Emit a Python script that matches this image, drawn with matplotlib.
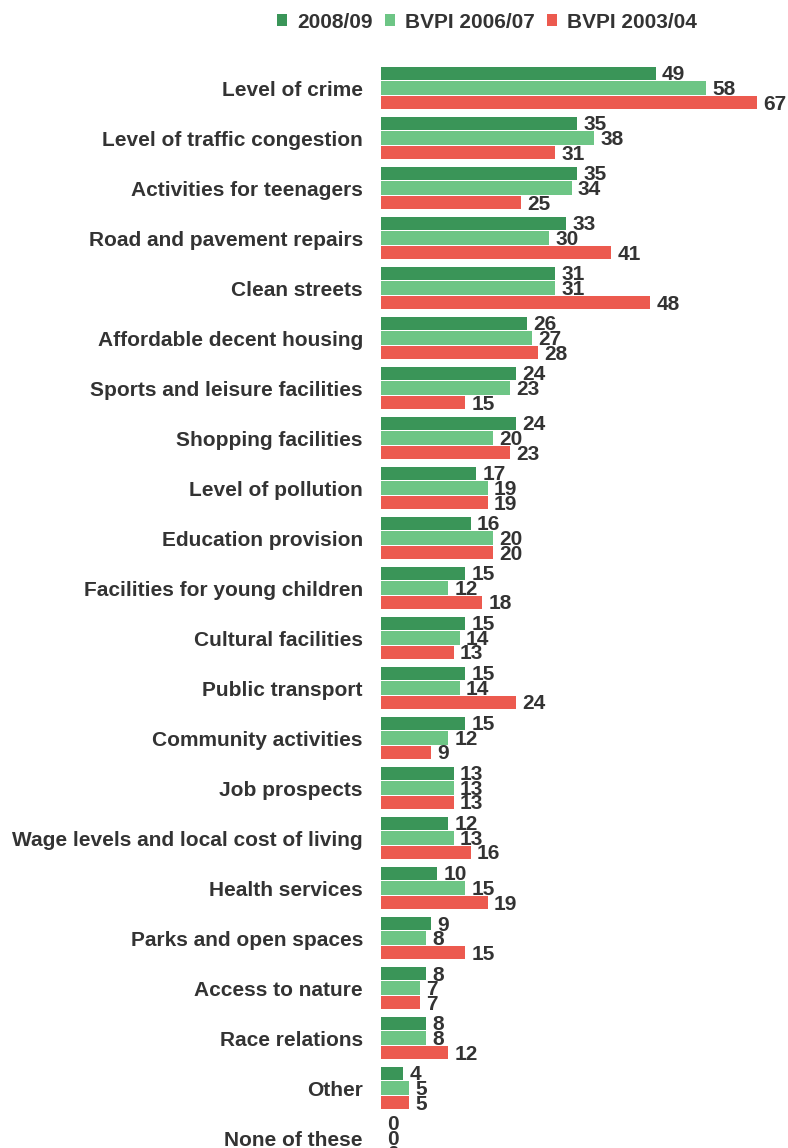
"""Priorities for improvement: 2008/09 vs BVPI surveys."""
import numpy as np
import matplotlib.pyplot as plt

plt.rcParams["font.family"] = ["Liberation Sans", "DejaVu Sans"]

categories = [
    "Level of crime",
    "Level of traffic congestion",
    "Activities for teenagers",
    "Road and pavement repairs",
    "Clean streets",
    "Affordable decent housing",
    "Sports and leisure facilities",
    "Shopping facilities",
    "Level of pollution",
    "Education provision",
    "Facilities for young children",
    "Cultural facilities",
    "Public transport",
    "Community activities",
    "Job prospects",
    "Wage levels and local cost of living",
    "Health services",
    "Parks and open spaces",
    "Access to nature",
    "Race relations",
    "Other",
    "None of these",
]
series_names = ["2008/09", "BVPI 2006/07", "BVPI 2003/04"]
v2008 = [49, 35, 35, 33, 31, 26, 24, 24, 17, 16, 15, 15, 15, 15, 13, 12, 10, 9, 8, 8, 4, 0]
v2006 = [58, 38, 34, 30, 31, 27, 23, 20, 19, 20, 12, 14, 14, 12, 13, 13, 15, 8, 7, 8, 5, 0]
v2003 = [67, 31, 25, 41, 48, 28, 15, 23, 19, 20, 18, 13, 24, 9, 13, 16, 19, 15, 7, 12, 5, 0]

colors = ["#3a9558", "#6dc585", "#ec5a4f"]
text_color = "#333333"
W, H = 788, 1148
fs = 15

fig = plt.figure(figsize=(W / 100, H / 100), dpi=100)
left, top_px = 381, 63
ax = fig.add_axes([left / W, 0, (W - left) / W, (H - top_px) / H])

y = np.arange(len(categories))
offsets = [-0.29, 0.0, 0.29]
for vals, off, col, name in zip([v2008, v2006, v2003], offsets, colors, series_names):
    bars = ax.barh(y + off, vals, height=0.27, color=col, label=name)
    for b, v in zip(bars, vals):
        ax.text(b.get_width() + 1.1, b.get_y() + b.get_height() / 2 + 0.03, str(v),
                ha="left", va="center", fontsize=fs, fontweight="bold",
                color=text_color)

ax.set_ylim(21.2, -0.5)
ax.set_xlim(0, (W - left) / 5.61)
ax.set_yticks(y)
ax.set_yticklabels(categories, fontsize=fs, fontweight="bold", color=text_color)
ax.tick_params(axis="y", length=0, pad=13)
ax.set_xticks([])
for s in ax.spines.values():
    s.set_visible(False)

fig.legend(loc="center", bbox_to_anchor=(487 / W, 1 - 22 / H), ncol=3,
           frameon=False, handlelength=0.5, handleheight=0.5, handletextpad=0.5,
           columnspacing=0.55, prop={"size": fs, "weight": "bold"},
           labelcolor=text_color)

fig.savefig("out.png", dpi=100)
